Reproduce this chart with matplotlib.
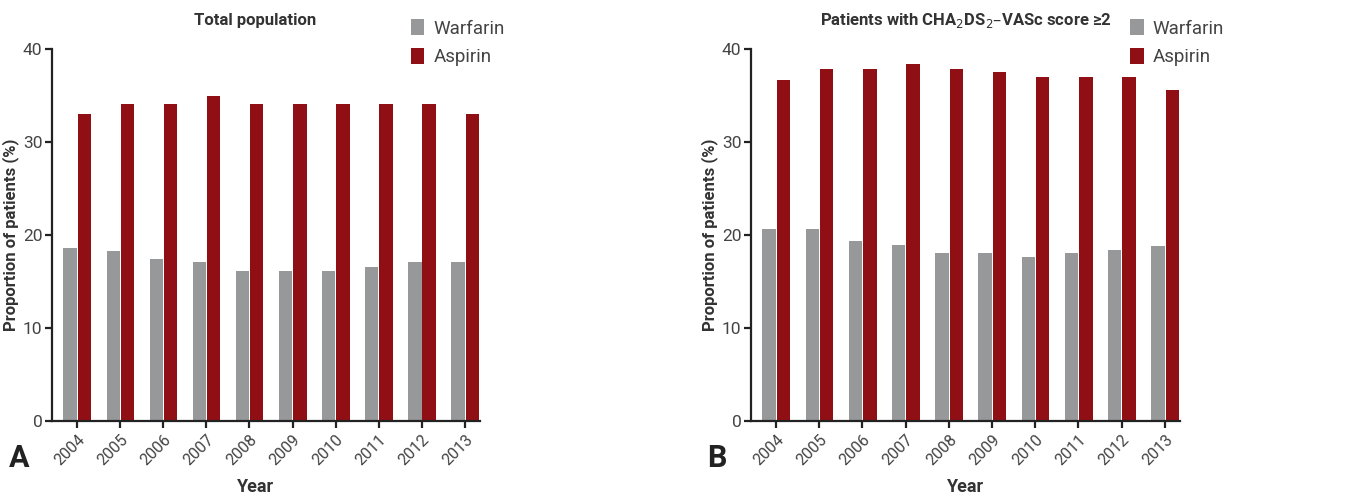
import matplotlib
matplotlib.use('Agg')
import matplotlib.pyplot as plt
import numpy as np

plt.rcParams['font.family'] = ['Roboto', 'DejaVu Sans']

years = ['2004', '2005', '2006', '2007', '2008', '2009', '2010', '2011', '2012', '2013']
# panel A: total population
warfarin_a = [18.6, 18.3, 17.4, 17.1, 16.1, 16.1, 16.1, 16.6, 17.1, 17.1]
aspirin_a = [33.0, 34.1, 34.1, 34.9, 34.1, 34.1, 34.1, 34.1, 34.1, 33.0]
# panel B: CHA2DS2-VASc >= 2
warfarin_b = [20.65, 20.65, 19.35, 18.9, 18.05, 18.05, 17.6, 18.05, 18.4, 18.8]
aspirin_b = [36.7, 37.8, 37.8, 38.4, 37.8, 37.5, 37.0, 37.0, 37.0, 35.6]

GRAY = '#97989a'
RED = '#8f0f14'
TXT = '#333333'
LAB = '#444444'

fig = plt.figure(figsize=(13.57, 4.98), dpi=100)
axA = fig.add_axes([52 / 1357, 0.1546, 428 / 1357, 0.747])
axB = fig.add_axes([751 / 1357, 0.1546, 429 / 1357, 0.747])

def draw(ax, warf, asp, title, leg_x, title_x):
    x = np.arange(len(years))
    w = 0.31
    ax.bar(x - w / 2 - 0.005, warf, width=w, color=GRAY, label='Warfarin')
    ax.bar(x + w / 2 + 0.015, asp, width=w, color=RED, label='Aspirin')
    ax.set_xlim(-0.58, 9.35)
    ax.set_ylim(0, 40)
    ax.set_yticks([0, 10, 20, 30, 40])
    ax.set_xticks(x)
    ax.set_xticklabels(years, rotation=45, ha='right', rotation_mode='anchor')
    for s in ['top', 'right']:
        ax.spines[s].set_visible(False)
    for s in ['left', 'bottom']:
        ax.spines[s].set_linewidth(1.6)
        ax.spines[s].set_color('#222222')
    ax.tick_params(axis='both', direction='out', length=5, width=1.6, color='#222222',
                   labelcolor=LAB)
    ax.tick_params(axis='y', labelsize=12.5, pad=2)
    ax.tick_params(axis='x', labelsize=11.5, pad=3)
    ax.set_title(title, fontsize=12, fontweight='bold', color=TXT, pad=17, x=title_x)
    ax.legend(loc='upper left', bbox_to_anchor=(leg_x, 1.125), frameon=False, fontsize=13.5,
              handlelength=0.7, handleheight=0.9, handletextpad=0.5, labelspacing=0.55,
              labelcolor=LAB)
    ax.set_ylabel('Proportion of patients (%)', fontsize=12, fontweight='bold', color=TXT)
    ax.yaxis.set_label_coords(-33 / 428, 0.5)

draw(axA, warfarin_a, aspirin_a, 'Total population', 0.80, 0.475)
draw(axB, warfarin_b, aspirin_b,
     'Patients with CHA$_2$DS$_2$\u2013VASc score \u22652', 0.845, 0.5)

fig.text(256 / 1357, 1 - 487 / 498, 'Year', ha='center', va='center', fontsize=13,
         fontweight='bold', color=TXT)
fig.text(966 / 1357, 1 - 487 / 498, 'Year', ha='center', va='center', fontsize=13,
         fontweight='bold', color=TXT)
fig.text(19 / 1357, 1 - 458 / 498, 'A', ha='center', va='center', fontsize=22,
         fontweight='bold', color='#222222')
fig.text(717 / 1357, 1 - 458 / 498, 'B', ha='center', va='center', fontsize=22,
         fontweight='bold', color='#222222')

fig.savefig('out.png', dpi=100)
